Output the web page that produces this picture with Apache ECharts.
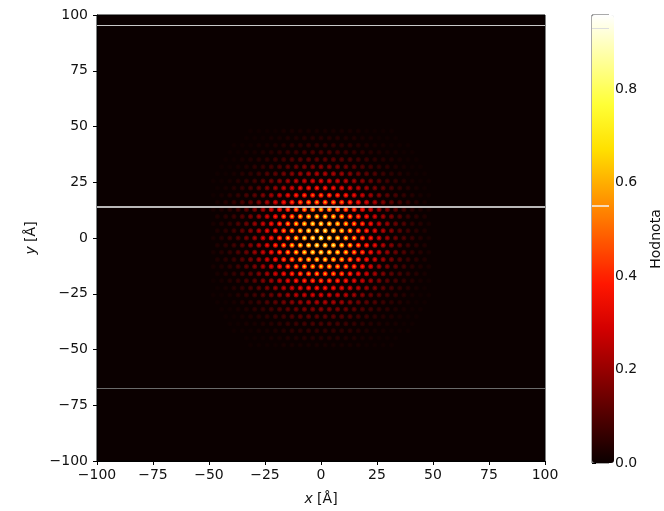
<!DOCTYPE html>
<html><head><meta charset="utf-8">
<script src="https://cdn.jsdelivr.net/npm/echarts@6/dist/echarts.min.js"></script>
<style>html,body{margin:0;padding:0;background:#fff}#c{width:664px;height:511px}</style>
</head><body><div id="c"></div>
<script>
// Row y positions (Å), top to bottom
const rowY = [48, 44.8, 41.6, 38.4, 35.2, 32, 28.8, 25.6, 22.4, 19.2, 16, 12.8, 9.6, 6.4, 3.2, 0,
  -3.2, -6.4, -9.6, -12.8, -16, -19.2, -22.4, -25.6, -28.8, -32, -35.2, -38.4, -41.6, -44.8, -48];
// Column x positions (Å) for rows with 27 and 26 dots
const xEven = [-48.1, -44.4, -40.7, -37, -33.3, -29.6, -25.9, -22.2, -18.5, -14.8, -11.1, -7.4, -3.7, 0,
  3.7, 7.4, 11.1, 14.8, 18.5, 22.2, 25.9, 29.6, 33.3, 37, 40.7, 44.4, 48.1];
const xOdd = [-46.25, -42.55, -38.85, -35.15, -31.45, -27.75, -24.05, -20.35, -16.65, -12.95, -9.25, -5.55, -1.85,
  1.85, 5.55, 9.25, 12.95, 16.65, 20.35, 24.05, 27.75, 31.45, 35.15, 38.85, 42.55, 46.25];
// Dot intensities per row
const intensityRows = [
  [0,0,0,0,.01,.01,.01,.01,.02,.02,.02,.02,.02,.02,.02,.02,.02,.02,.01,.01,.01,.01,0,0,0,0],
  [0,0,0,0,.01,.01,.01,.02,.02,.03,.03,.04,.04,.04,.04,.04,.03,.03,.02,.02,.01,.01,.01,0,0,0,0],
  [0,0,.01,.01,.01,.02,.02,.03,.04,.05,.05,.06,.06,.06,.06,.05,.05,.04,.03,.02,.02,.01,.01,.01,0,0],
  [0,0,.01,.01,.02,.02,.03,.04,.05,.06,.07,.08,.09,.09,.09,.08,.07,.06,.05,.04,.03,.02,.02,.01,.01,0,0],
  [0,.01,.01,.02,.03,.04,.05,.07,.08,.10,.11,.12,.12,.12,.12,.11,.10,.08,.07,.05,.04,.03,.02,.01,.01,0],
  [0,.01,.01,.02,.03,.05,.06,.08,.10,.12,.14,.16,.17,.18,.17,.16,.14,.12,.10,.08,.06,.05,.03,.02,.01,.01,0],
  [.01,.01,.02,.04,.05,.07,.10,.12,.15,.18,.21,.23,.24,.24,.23,.21,.18,.15,.12,.10,.07,.05,.04,.02,.01,.01],
  [.01,.01,.02,.04,.06,.08,.11,.14,.18,.22,.26,.28,.30,.31,.30,.28,.26,.22,.18,.14,.11,.08,.06,.04,.02,.01,.01],
  [.01,.02,.04,.06,.09,.12,.16,.21,.26,.30,.34,.37,.39,.39,.37,.34,.30,.26,.21,.16,.12,.09,.06,.04,.02,.01],
  [.01,.02,.04,.06,.09,.12,.17,.22,.28,.34,.40,.44,.47,.48,.47,.44,.40,.34,.28,.22,.17,.12,.09,.06,.04,.02,.01],
  [.02,.04,.06,.09,.12,.17,.23,.30,.37,.44,.50,.55,.57,.57,.55,.50,.44,.37,.30,.23,.17,.12,.09,.06,.04,.02],
  [.02,.03,.05,.08,.12,.17,.23,.31,.39,.47,.55,.61,.65,.66,.65,.61,.55,.47,.39,.31,.23,.17,.12,.08,.05,.03,.02],
  [.03,.05,.07,.11,.16,.22,.30,.39,.48,.57,.65,.70,.73,.73,.70,.65,.57,.48,.39,.30,.22,.16,.11,.07,.05,.03],
  [.02,.04,.06,.10,.14,.21,.28,.37,.47,.57,.66,.73,.78,.80,.78,.73,.66,.57,.47,.37,.28,.21,.14,.10,.06,.04,.02],
  [.03,.05,.08,.12,.18,.25,.34,.44,.55,.65,.73,.80,.83,.83,.80,.73,.65,.55,.44,.34,.25,.18,.12,.08,.05,.03],
  [.02,.04,.07,.10,.15,.22,.30,.40,.50,.61,.70,.78,.83,.95,.83,.78,.70,.61,.50,.40,.30,.22,.15,.10,.07,.04,.02],
  [.03,.05,.08,.12,.18,.25,.34,.44,.55,.65,.73,.80,.83,.83,.80,.73,.65,.55,.44,.34,.25,.18,.12,.08,.05,.03],
  [.02,.04,.06,.10,.14,.21,.28,.37,.47,.57,.66,.73,.78,.80,.78,.73,.66,.57,.47,.37,.28,.21,.14,.10,.06,.04,.02],
  [.03,.05,.07,.11,.16,.22,.30,.39,.48,.57,.65,.70,.73,.73,.70,.65,.57,.48,.39,.30,.22,.16,.11,.07,.05,.03],
  [.02,.03,.05,.08,.12,.17,.23,.31,.39,.47,.55,.61,.65,.66,.65,.61,.55,.47,.39,.31,.23,.17,.12,.08,.05,.03,.02],
  [.02,.04,.06,.09,.12,.17,.23,.30,.37,.44,.50,.55,.57,.57,.55,.50,.44,.37,.30,.23,.17,.12,.09,.06,.04,.02],
  [.01,.02,.04,.06,.09,.12,.17,.22,.28,.34,.40,.44,.47,.48,.47,.44,.40,.34,.28,.22,.17,.12,.09,.06,.04,.02,.01],
  [.01,.02,.04,.06,.09,.12,.16,.21,.26,.30,.34,.37,.39,.39,.37,.34,.30,.26,.21,.16,.12,.09,.06,.04,.02,.01],
  [.01,.01,.02,.04,.06,.08,.11,.14,.18,.22,.26,.28,.30,.31,.30,.28,.26,.22,.18,.14,.11,.08,.06,.04,.02,.01,.01],
  [.01,.01,.02,.04,.05,.07,.10,.12,.15,.18,.21,.23,.24,.24,.23,.21,.18,.15,.12,.10,.07,.05,.04,.02,.01,.01],
  [0,.01,.01,.02,.03,.05,.06,.08,.10,.12,.14,.16,.17,.18,.17,.16,.14,.12,.10,.08,.06,.05,.03,.02,.01,.01,0],
  [0,.01,.01,.02,.03,.04,.05,.07,.08,.10,.11,.12,.12,.12,.12,.11,.10,.08,.07,.05,.04,.03,.02,.01,.01,0],
  [0,0,.01,.01,.02,.02,.03,.04,.05,.06,.07,.08,.09,.09,.09,.08,.07,.06,.05,.04,.03,.02,.02,.01,.01,0,0],
  [0,0,.01,.01,.01,.02,.02,.03,.04,.05,.05,.06,.06,.06,.06,.05,.05,.04,.03,.02,.02,.01,.01,.01,0,0],
  [0,0,0,0,.01,.01,.01,.02,.02,.03,.03,.04,.04,.04,.04,.04,.03,.03,.02,.02,.01,.01,.01,0,0,0,0],
  [0,0,0,0,.01,.01,.01,.01,.02,.02,.02,.02,.02,.02,.02,.02,.02,.02,.01,.01,.01,.01,0,0,0,0]
];
const colorbarTicks = [0, 0.2, 0.4, 0.6, 0.8];
const colorbarMax = 0.959;
const artifactY = [95.5, 14.2, -67.5];
const colorbarArtifacts = [0.927, 0.546];

const hot = ['#0b0000','#4e0000','#910000','#d30000','#ff1700','#ff5a00','#ff9d00','#ffe000','#ffff36','#ffff9b','#ffffff'];

const points = [];
intensityRows.forEach(function (row, i) {
  const xs = row.length === xEven.length ? xEven : xOdd;
  row.forEach(function (v, j) { if (v > 0) points.push([xs[j], rowY[i], v]); });
});
const halo = points.map(function (p) { return [p[0], p[1], p[2] * 0.65]; });

const FONT = 'DejaVu Sans';
const TXT = '#111';
const minus = function (v) { return String(v).replace('-', '\u2212'); };
const axisCommon = {
  type: 'value', min: -100, max: 100, interval: 25,
  axisLine: { show: true, onZero: false, lineStyle: { color: '#000', width: 1 } },
  axisTick: { show: true, length: 4, lineStyle: { color: '#000' } },
  splitLine: { show: false },
  nameLocation: 'middle',
  nameTextStyle: { color: TXT, fontSize: 14, fontFamily: FONT, rich: { i: { fontStyle: 'italic', fontSize: 14, fontFamily: FONT, color: TXT } } }
};

const chart = echarts.init(document.getElementById('c'));
chart.setOption({
  animation: false,
  backgroundColor: '#fff',
  grid: [
    { left: 97, top: 15, width: 448, height: 448, show: true, backgroundColor: '#0b0000', borderColor: '#000', borderWidth: 1 },
    { left: 592, top: 15, width: 22, height: 448, show: true, backgroundColor: 'transparent', borderColor: '#555', borderWidth: 1 }
  ],
  xAxis: [
    Object.assign({}, axisCommon, { gridIndex: 0, name: '{i|x} [Å]', nameGap: 31,
      axisLabel: { color: TXT, fontSize: 14, fontFamily: FONT, margin: 7, formatter: minus } }),
    { gridIndex: 1, type: 'value', min: 0, max: 1, show: false }
  ],
  yAxis: [
    Object.assign({}, axisCommon, { gridIndex: 0, name: '{i|y} [Å]', nameGap: 56,
      axisLabel: { color: TXT, fontSize: 14, fontFamily: FONT, margin: 9, formatter: minus } }),
    { gridIndex: 1, type: 'value', position: 'right', min: 0, max: colorbarMax,
      axisLine: { show: false },
      axisTick: { show: true, length: 4, lineStyle: { color: '#000' }, customValues: colorbarTicks },
      axisLabel: { color: TXT, fontSize: 14, fontFamily: FONT, margin: 6, customValues: colorbarTicks,
        formatter: function (v) { return v.toFixed(1); } },
      splitLine: { show: false },
      name: 'Hodnota', nameLocation: 'middle', nameRotate: 90, nameGap: 40,
      nameTextStyle: { color: TXT, fontSize: 14, fontFamily: FONT } }
  ],
  visualMap: {
    type: 'continuous', min: 0, max: colorbarMax, dimension: 2, seriesIndex: [0, 1],
    calculable: false, left: 592, top: 15, itemWidth: 22, itemHeight: 448,
    text: ['', ''], padding: 0, showLabel: false, inRange: { color: hot }
  },
  series: [
    { type: 'scatter', xAxisIndex: 0, yAxisIndex: 0, data: halo, symbolSize: 5, silent: true,
      itemStyle: { opacity: 1 } },
    { type: 'scatter', xAxisIndex: 0, yAxisIndex: 0, data: points, symbolSize: 2.5, silent: true,
      itemStyle: { opacity: 1 },
      markLine: { silent: true, symbol: ['none', 'none'], label: { show: false },
        data: [
          { yAxis: artifactY[0], lineStyle: { color: '#c8c8c8', width: 1, type: 'solid' } },
          { yAxis: artifactY[1], lineStyle: { color: '#f4f4f4', width: 1.5, type: 'solid' } },
          { yAxis: artifactY[2], lineStyle: { color: '#6a6a6a', width: 1, type: 'solid' } }
        ] } },
    { type: 'line', xAxisIndex: 1, yAxisIndex: 1, data: [], z: 10, silent: true,
      markLine: { silent: true, symbol: ['none', 'none'], label: { show: false }, z: 10,
        data: [
          { yAxis: colorbarArtifacts[0], lineStyle: { color: '#dddddd', width: 1, type: 'solid' } },
          { yAxis: colorbarArtifacts[1], lineStyle: { color: '#f4f4f4', width: 1.5, type: 'solid' } }
        ] } }
  ]
});
</script>
</body></html>
